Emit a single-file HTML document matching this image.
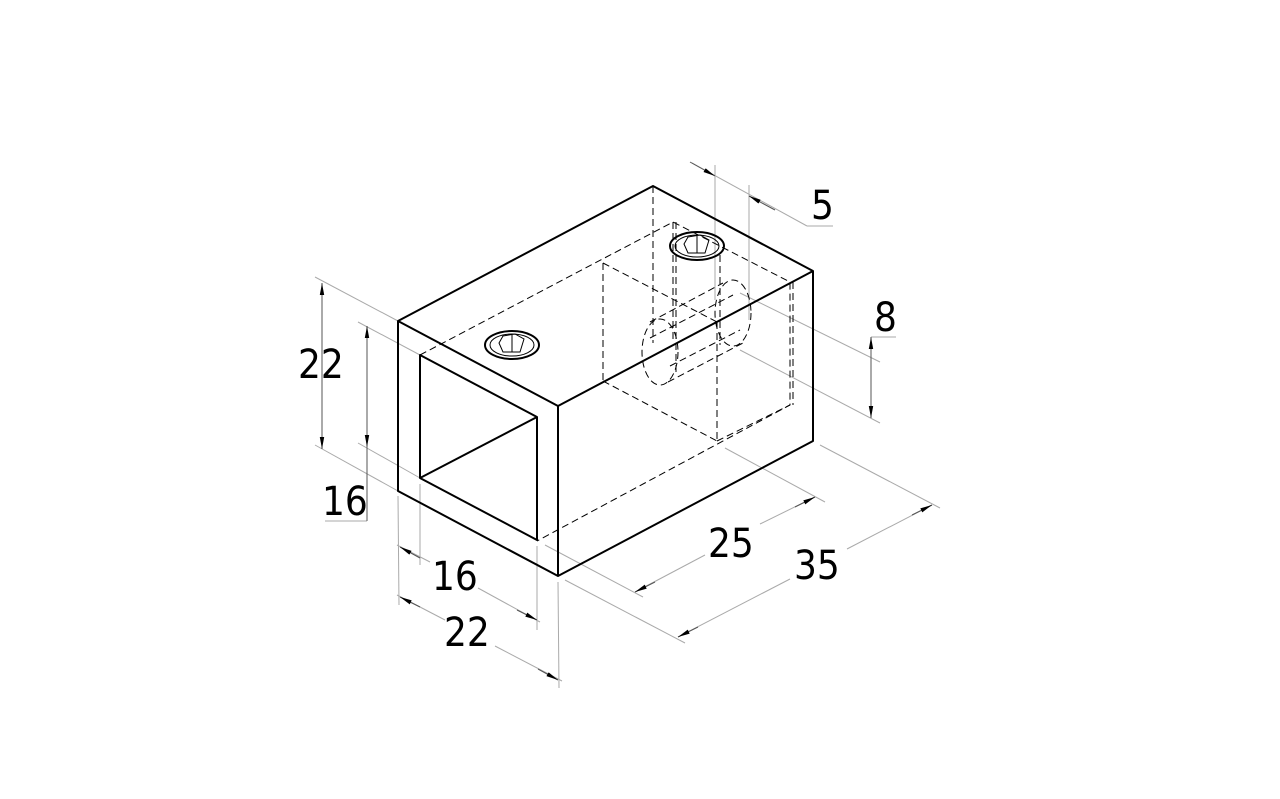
<!DOCTYPE html>
<html><head><meta charset="utf-8"><style>
html,body{margin:0;padding:0;background:#fff;}
svg{display:block;}
text{font-family:"DejaVu Sans Condensed","Liberation Sans",sans-serif;font-size:40px;fill:#000;}
</style></head><body>
<svg width="1280" height="799" viewBox="0 0 1280 799" xmlns="http://www.w3.org/2000/svg">
<defs>
<marker id="a" viewBox="0 0 12 6" refX="12" refY="3" markerWidth="12" markerHeight="6" markerUnits="userSpaceOnUse" orient="auto-start-reverse">
<path d="M0,0.8 L12,3 L0,5.2 Z" fill="#000"/></marker>
</defs>
<!-- dimension / extension lines -->
<g stroke="#aaa" stroke-width="1" fill="none">
<!-- 22 vertical -->
<line x1="315" y1="277" x2="398" y2="321"/>
<line x1="315" y1="445" x2="398" y2="491"/>
<!-- 16 vertical -->
<line x1="358" y1="322" x2="420" y2="355"/>
<line x1="358" y1="443" x2="420" y2="478"/>
<line x1="325" y1="521" x2="367" y2="521"/>
<!-- bottom ext verticals -->
<line x1="420" y1="484" x2="420" y2="565"/>
<line x1="537" y1="546" x2="537" y2="630"/>
<line x1="398" y1="496" x2="399" y2="605"/>
<line x1="558" y1="582" x2="559" y2="688"/>
<!-- 16 bottom dim -->
<line x1="397" y1="545" x2="430" y2="562"/>
<line x1="478" y1="588" x2="540" y2="622"/>
<!-- 22 bottom dim -->
<line x1="397" y1="595" x2="445" y2="620"/>
<line x1="495" y1="646" x2="562" y2="681"/>
<!-- 25 -->
<line x1="545" y1="545" x2="643" y2="597"/>
<line x1="725" y1="448" x2="825" y2="502"/>
<line x1="635" y1="592" x2="705" y2="555"/>
<line x1="760" y1="524" x2="815" y2="497"/>
<!-- 35 -->
<line x1="565" y1="580" x2="685" y2="643"/>
<line x1="820" y1="445" x2="940" y2="508"/>
<line x1="678" y1="637" x2="790" y2="579"/>
<line x1="847" y1="549" x2="932" y2="505"/>
<!-- 5 -->
<line x1="715" y1="165" x2="715" y2="300"/>
<line x1="749" y1="185" x2="749" y2="320"/>
<line x1="692" y1="163" x2="807" y2="226"/>
<line x1="807" y1="226" x2="833" y2="226"/>
<!-- 8 -->
<line x1="740" y1="293" x2="880" y2="362"/>
<line x1="740" y1="350" x2="880" y2="423"/>
<line x1="871" y1="337" x2="896" y2="337"/>
</g>
<g stroke="#555" stroke-width="1" fill="none">
<line x1="322" y1="283" x2="322" y2="449" marker-start="url(#a)" marker-end="url(#a)"/>
<line x1="367" y1="326" x2="367" y2="447" marker-start="url(#a)" marker-end="url(#a)"/>
<line x1="367" y1="447" x2="367" y2="521"/>
<line x1="400" y1="547" x2="420" y2="558" marker-start="url(#a)"/>
<line x1="517" y1="610" x2="537" y2="620" marker-end="url(#a)"/>
<line x1="400" y1="597" x2="420" y2="607" marker-start="url(#a)"/>
<line x1="538" y1="669" x2="558" y2="680" marker-end="url(#a)"/>
<line x1="655" y1="582" x2="635" y2="592" marker-end="url(#a)"/>
<line x1="795" y1="507" x2="815" y2="497" marker-end="url(#a)"/>
<line x1="698" y1="627" x2="678" y2="637" marker-end="url(#a)"/>
<line x1="912" y1="515" x2="932" y2="505" marker-end="url(#a)"/>
<line x1="690" y1="162" x2="715" y2="176" marker-end="url(#a)"/>
<line x1="775" y1="210" x2="749" y2="196" marker-end="url(#a)"/>
<line x1="871" y1="337" x2="871" y2="418" marker-start="url(#a)" marker-end="url(#a)"/>
</g>
<!-- hidden lines -->
<g stroke="#000" stroke-width="1" fill="none" stroke-dasharray="7,4">
<polyline points="420,355 673,222 790,282 790,405 537,541"/>
<line x1="653" y1="186" x2="653" y2="343"/>
<line x1="603" y1="263" x2="603" y2="381"/>
<line x1="603" y1="263" x2="717" y2="322"/>
<line x1="603" y1="381" x2="717" y2="441"/>
<line x1="717" y1="322" x2="717" y2="441"/>
<line x1="717" y1="441" x2="790" y2="405"/>
<line x1="676" y1="222" x2="676" y2="373"/>
<line x1="673" y1="222" x2="673" y2="340"/>
<line x1="720" y1="255" x2="720" y2="345"/>
<line x1="793" y1="282" x2="793" y2="405"/>
<ellipse cx="660" cy="352" rx="18" ry="33"/>
<ellipse cx="733" cy="313" rx="18" ry="33"/>
<line x1="650" y1="322" x2="723" y2="283"/>
<line x1="668" y1="382" x2="743" y2="343"/>
<line x1="650" y1="338" x2="733" y2="295"/>
<line x1="670" y1="366" x2="740" y2="330"/>
</g>
<!-- visible outline -->
<g stroke="#000" stroke-width="2" fill="none" stroke-linejoin="round">
<polygon points="398,321 653,186 813,271 813,441 558,576 398,491"/>
<polyline points="398,321 558,406 813,271"/>
<line x1="558" y1="406" x2="558" y2="576"/>
<polygon points="420,355 537,417 537,540 420,478"/>
<line x1="420" y1="478" x2="537" y2="417"/>
</g>
<!-- screws -->
<g stroke="#000" fill="none">
<ellipse cx="512" cy="345" rx="27" ry="14" stroke-width="2"/>
<ellipse cx="512" cy="345" rx="22" ry="11" stroke-width="1"/>
<polygon points="503,336 515,334 524,339 520,352 503,352 499,343" stroke-width="1"/>
<line x1="512" y1="335" x2="512" y2="352"/>
<ellipse cx="697" cy="246" rx="27" ry="14" stroke-width="2"/>
<ellipse cx="697" cy="246" rx="22" ry="11" stroke-width="1"/>
<polygon points="688,237 700,235 709,240 705,253 688,253 684,244" stroke-width="1"/>
<line x1="697" y1="236" x2="697" y2="253"/>
</g>
<!-- labels -->
<text x="298" y="378">22</text>
<text x="322" y="515">16</text>
<text x="432" y="590">16</text>
<text x="444" y="646">22</text>
<text x="708" y="557">25</text>
<text x="794" y="579">35</text>
<text x="811" y="219">5</text>
<text x="874" y="331">8</text>
</svg>
</body></html>
